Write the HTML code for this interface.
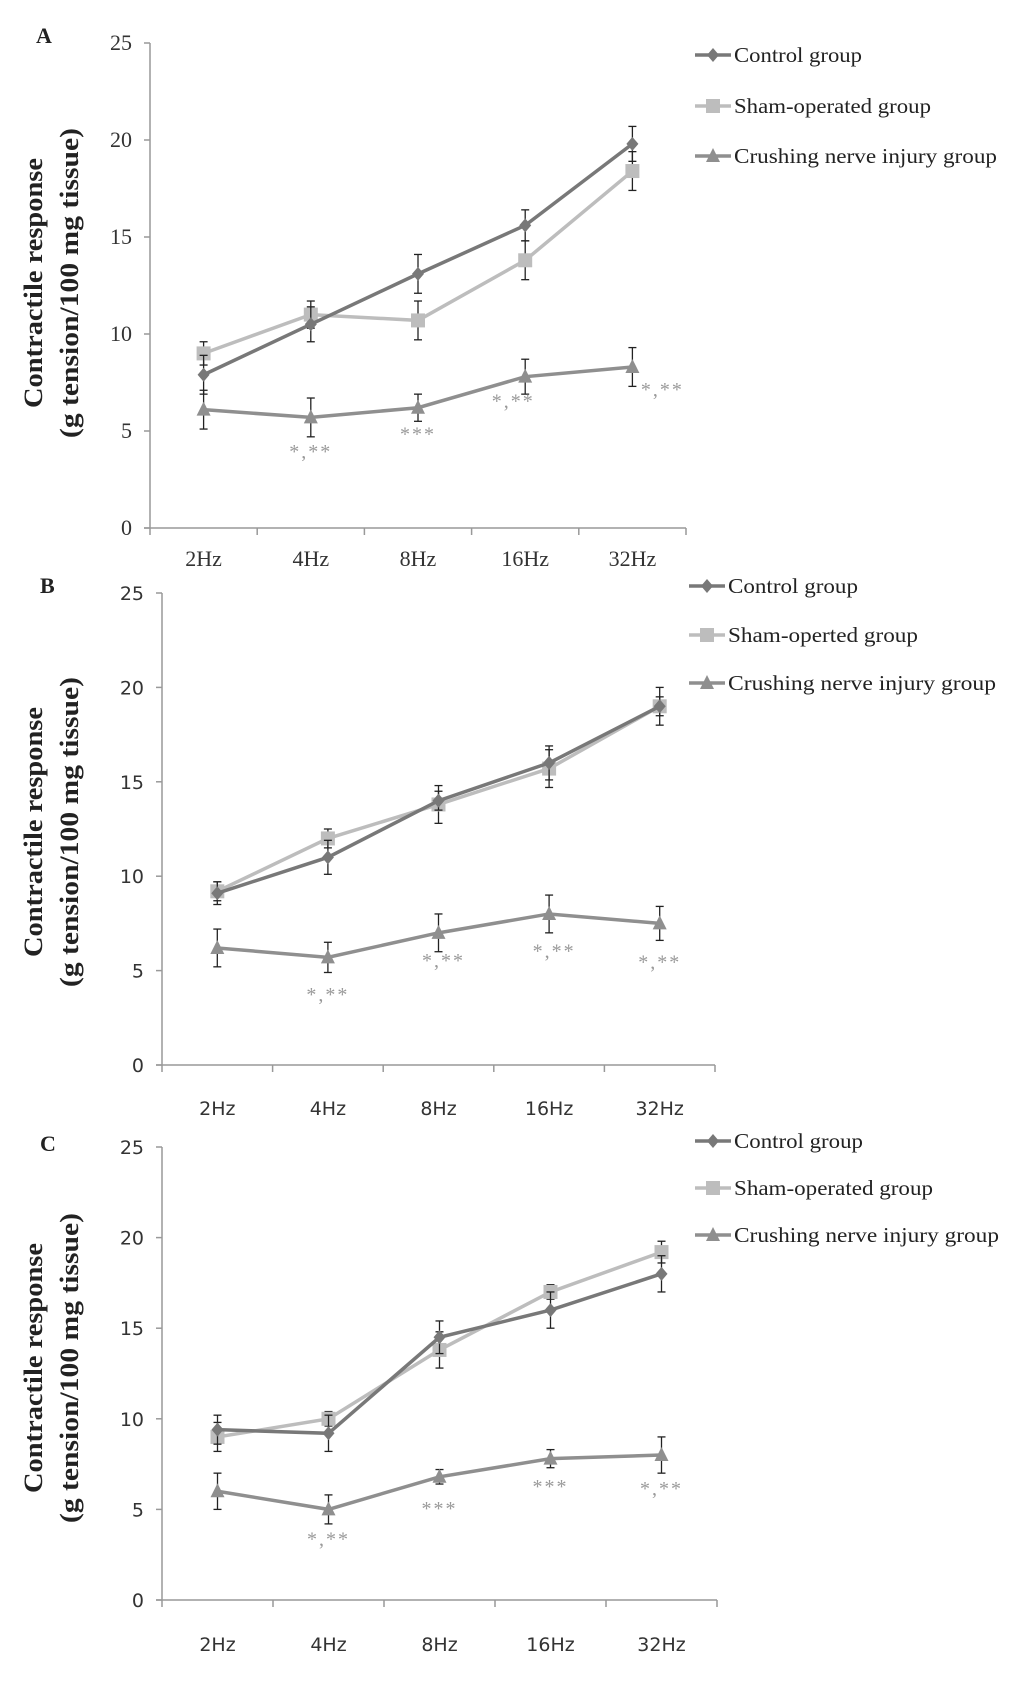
<!DOCTYPE html>
<html><head><meta charset="utf-8">
<style>
html,body{margin:0;padding:0;background:#fff;}
svg{display:block;}
</style></head>
<body>
<svg id="chart" width="1024" height="1683" viewBox="0 0 1024 1683" xmlns="http://www.w3.org/2000/svg"></svg>
<script>
const categories = ["2Hz","4Hz","8Hz","16Hz","32Hz"];
const yTicks = [0,5,10,15,20,25];
const seriesNames = ["Control group","Sham-operated group","Crushing nerve injury group"];
const seriesNamesB = ["Control group","Sham-operted group","Crushing nerve injury group"];

const controlA = [7.9,10.5,13.1,15.6,19.8];
const controlErrA = [1.0,0.9,1.0,0.8,0.9];
const shamA = [9.0,11.0,10.7,13.8,18.4];
const shamErrA = [0.6,0.7,1.0,1.0,1.0];
const crushA = [6.1,5.7,6.2,7.8,8.3];
const crushErrA = [1.0,1.0,0.7,0.9,1.0];
const annotA = ["","*,**","***","*,**","*,**"];
const annotYA = [0,3.6,4.5,6.2,6.8];

const controlB = [9.1,11.0,14.0,16.0,19.0];
const controlErrB = [0.6,0.9,0.5,0.9,0.5];
const shamB = [9.2,12.0,13.8,15.7,19.0];
const shamErrB = [0.5,0.5,1.0,1.0,1.0];
const crushB = [6.2,5.7,7.0,8.0,7.5];
const crushErrB = [1.0,0.8,1.0,1.0,0.9];
const annotB = ["","*,**","*,**","*,**","*,**"];
const annotYB = [0,3.4,5.2,5.7,5.1];

const controlC = [9.4,9.2,14.5,16.0,18.0];
const controlErrC = [0.8,1.0,0.9,1.0,1.0];
const shamC = [9.0,10.0,13.8,17.0,19.2];
const shamErrC = [0.8,0.4,1.0,0.4,0.6];
const crushC = [6.0,5.0,6.8,7.8,8.0];
const crushErrC = [1.0,0.8,0.4,0.5,1.0];
const annotC = ["","*,**","***","***","*,**"];
const annotYC = [0,3.0,4.7,5.9,5.8];

const NS = "http://www.w3.org/2000/svg";
const svg = document.getElementById("chart");
function mk(tag, attrs, parent){const e=document.createElementNS(NS,tag);for(const k in attrs)e.setAttribute(k,attrs[k]);(parent||svg).appendChild(e);return e;}

const panels = [
 {id:"a",letter:"A",lx:36,ly:43,x0:150,x1:686,top:43,bot:528,labY:566,tickFont:'"Liberation Serif", serif',tickSize:22,legX:695,legY:[55,106,156],legLen:[128,197,263],
  names:seriesNames,data:[controlA,shamA,crushA],errs:[controlErrA,shamErrA,crushErrA],annot:annotA,annotY:annotYA,annotDx:[0,0,0,-12,30],titleY:283},
 {id:"b",letter:"B",lx:40,ly:593,x0:162,x1:715,top:593,bot:1065,labY:1115,tickFont:'"DejaVu Sans", sans-serif',tickSize:19,legX:689,legY:[586,635,683],legLen:[130,190,268],
  names:seriesNamesB,data:[controlB,shamB,crushB],errs:[controlErrB,shamErrB,crushErrB],annot:annotB,annotY:annotYB,annotDx:[0,0,5,5,0],titleY:832},
 {id:"c",letter:"C",lx:40,ly:1151,x0:162,x1:717,top:1147,bot:1600,labY:1651,tickFont:'"DejaVu Sans", sans-serif',tickSize:19,legX:695,legY:[1141,1188,1235],legLen:[129,199,265],
  names:seriesNames,data:[controlC,shamC,crushC],errs:[controlErrC,shamErrC,crushErrC],annot:annotC,annotY:annotYC,annotDx:[0,0,0,0,0],titleY:1368}
];
const colors = ["#787878","#bdbdbd","#8f8f8f"];

panels.forEach(p=>{
  const g = mk("g",{});
  
  
  const band=(p.x1-p.x0)/categories.length;
  const xs=i=>p.x0+band*(i+0.5);
  const ys=v=>p.bot-(v/25)*(p.bot-p.top);

  const lt=mk("text",{x:p.lx,y:p.ly,"font-family":'"Liberation Serif", serif',"font-size":22,"font-weight":"bold",fill:"#222"},g);
  lt.textContent=p.letter;
  
  

  const tt=mk("text",{transform:`translate(42,${p.titleY}) rotate(-90)`,"text-anchor":"middle","font-family":'"Liberation Serif", serif',"font-size":26,"font-weight":"bold",fill:"#222",textLength:250,lengthAdjust:"spacingAndGlyphs"},g);
  tt.textContent="Contractile response";
  
  
  const tt2=mk("text",{transform:`translate(78,${p.titleY}) rotate(-90)`,"text-anchor":"middle","font-family":'"Liberation Serif", serif',"font-size":26,"font-weight":"bold",fill:"#222",textLength:310,lengthAdjust:"spacingAndGlyphs"},g);
  tt2.textContent="(g tension/100 mg tissue)";
  
  

  const ya=mk("line",{x1:p.x0,y1:p.top,x2:p.x0,y2:p.bot,stroke:"#999","stroke-width":1.5},g);
  
  
  const xa=mk("line",{x1:p.x0-6,y1:p.bot,x2:p.x1,y2:p.bot,stroke:"#999","stroke-width":1.5},g);
  
  
  yTicks.forEach(t=>{
    mk("line",{x1:p.x0-6,y1:ys(t),x2:p.x0,y2:ys(t),stroke:"#999","stroke-width":1.5},g);
    const tx=mk("text",{x:p.x0-18,y:ys(t)+7,"text-anchor":"end","font-family":p.tickFont,"font-size":p.tickSize,fill:"#333"},g);
    tx.textContent=t;
    
    
  });
  for(let i=0;i<=categories.length;i++){
    mk("line",{x1:p.x0+band*i,y1:p.bot,x2:p.x0+band*i,y2:p.bot+7,stroke:"#999","stroke-width":1.5},g);
  }
  categories.forEach((c,i)=>{
    const tx=mk("text",{x:xs(i),y:p.labY,"text-anchor":"middle","font-family":p.tickFont,"font-size":p.tickSize,fill:"#333"},g);
    tx.textContent=c;
    
    
  });

  [2,1,0].forEach(s=>{
    const vals=p.data[s], er=p.errs[s];
    const sg=mk("g",{},g);
    
    
    vals.forEach((v,i)=>{
      const x=xs(i);
      mk("line",{x1:x,y1:ys(v-er[i]),x2:x,y2:ys(v+er[i]),stroke:"#222","stroke-width":1.3},sg);
      mk("line",{x1:x-4,y1:ys(v-er[i]),x2:x+4,y2:ys(v-er[i]),stroke:"#222","stroke-width":1.3},sg);
      mk("line",{x1:x-4,y1:ys(v+er[i]),x2:x+4,y2:ys(v+er[i]),stroke:"#222","stroke-width":1.3},sg);
    });
    const pts=vals.map((v,i)=>xs(i)+","+ys(v)).join(" ");
    const pl=mk("polyline",{points:pts,fill:"none",stroke:colors[s],"stroke-width":3.5},sg);
    
    
    vals.forEach((v,i)=>{marker(sg,s,xs(i),ys(v));});
  });

  p.annot.forEach((a,i)=>{
    if(!a)return;
    const tx=mk("text",{x:xs(i)+p.annotDx[i],y:ys(p.annotY[i]),"text-anchor":"middle","font-family":'"Liberation Serif", serif',"font-size":20,"letter-spacing":"2",fill:"#999"},g);
    tx.textContent=a;
    
    
  });

  p.names.forEach((n,s)=>{
    const lg=mk("g",{},g);
    
    
    const y=p.legY[s];
    mk("line",{x1:p.legX,y1:y,x2:p.legX+36,y2:y,stroke:colors[s],"stroke-width":3.5},lg);
    marker(lg,s,p.legX+18,y);
    const tx=mk("text",{x:p.legX+39,y:y+7,"font-family":'"Liberation Serif", serif',"font-size":21,fill:"#222",textLength:p.legLen[s],lengthAdjust:"spacingAndGlyphs"},lg);
    tx.textContent=n;
  });
});

function marker(parent,s,x,y){
  let m;
  if(s===0){m=mk("polygon",{points:`${x},${y-7} ${x+6},${y} ${x},${y+7} ${x-6},${y}`,fill:colors[0]},parent);}
  else if(s===1){m=mk("rect",{x:x-7,y:y-7,width:14,height:14,fill:colors[1]},parent);}
  else {m=mk("polygon",{points:`${x},${y-8} ${x+7},${y+6} ${x-7},${y+6}`,fill:colors[2]},parent);}
  
  
}
</script>
</body></html>
